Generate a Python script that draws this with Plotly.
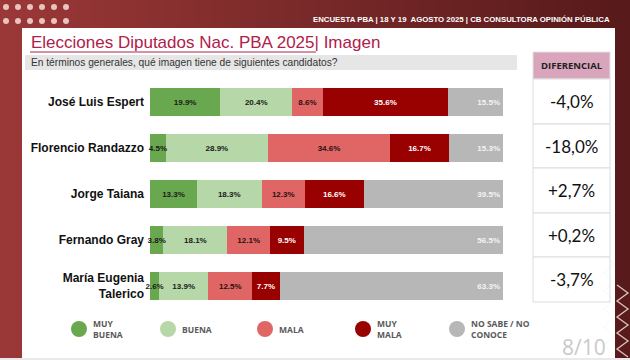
import plotly.graph_objects as go

# ---------------- data ----------------
candidates = ["José Luis Espert", "Florencio Randazzo", "Jorge Taiana",
              "Fernando Gray", "María Eugenia<br>Talerico"]
series_names = ["MUY<br>BUENA", "BUENA", "MALA", "MUY<br>MALA", "NO SABE / NO<br>CONOCE"]
muy_buena = [19.9, 4.5, 13.3, 3.8, 2.6]
buena = [20.4, 28.9, 18.3, 18.1, 13.9]
mala = [8.6, 34.6, 12.3, 12.1, 12.5]
muy_mala = [35.6, 16.7, 16.6, 9.5, 7.7]
ns_nc = [15.5, 15.3, 39.5, 56.5, 63.3]
diferencial = ["-4,0%", "-18,0%", "+2,7%", "+0,2%", "-3,7%"]

title_main = "Elecciones Diputados Nac. PBA 2025"
title_rest = "| Imagen"
subtitle = "En términos generales, qué imagen tiene de siguientes candidatos?"
header = "ENCUESTA PBA | 18 Y 19  AGOSTO 2025 | CB CONSULTORA OPINIÓN PÚBLICA"
table_header = "DIFERENCIAL"
page_label = "8/10"

# ---------------- styles ----------------
W, H = 630, 360
colors = ["#6aa84f", "#b6d7a8", "#e06666", "#990000", "#b7b7b7"]
text_colors = ["#1a1a1a", "#1a1a1a", "#2a1010", "#ffffff", "#f4f4f4"]
FONT = "Liberation Sans, Arial, sans-serif"


def px(x):
    return x / W


def py(y):
    return 1 - y / H


fig = go.Figure()
all_series = [muy_buena, buena, mala, muy_mala, ns_nc]
for i, vals in enumerate(all_series):
    fig.add_trace(go.Bar(
        y=candidates, x=vals, orientation="h",
        name=series_names[i].replace("<br>", " "),
        marker=dict(color=colors[i], line=dict(width=0)),
        text=None if i == 0 else [f"{v:.1f}%" for v in vals],
        textposition="inside",
        insidetextanchor="end" if i == 4 else "middle",
        textangle=0,
        textfont=dict(family=FONT, size=8, color=text_colors[i], weight="bold"),
        cliponaxis=False,
        hoverinfo="skip",
        showlegend=False,
    ))
# labels of the first series drawn on an overlaying axis so that they stay on top
fig.add_trace(go.Bar(
    y=candidates, x=muy_buena, orientation="h", xaxis="x2", yaxis="y2",
    marker=dict(color="rgba(0,0,0,0)", line=dict(width=0)),
    text=[f"{v:.1f}%" for v in muy_buena],
    textposition="inside", insidetextanchor="middle", textangle=0,
    textfont=dict(family=FONT, size=8, color=text_colors[0], weight="bold"),
    cliponaxis=False, hoverinfo="skip", showlegend=False,
))

shapes = []
# background gradient strips
n = 42
c0 = (0x9a, 0x38, 0x37)
c1 = (0x58, 0x1a, 0x1b)
for k in range(n):
    t = k / (n - 1)
    c = tuple(int(c0[j] + (c1[j] - c0[j]) * t) for j in range(3))
    shapes.append(dict(type="rect", xref="paper", yref="paper",
                       x0=k / n, x1=(k + 1) / n + 0.002, y0=0, y1=1,
                       fillcolor="rgb(%d,%d,%d)" % c, line=dict(width=0), layer="below"))
# bottom light strip
shapes.append(dict(type="rect", xref="paper", yref="paper", x0=0, x1=1, y0=0, y1=2 / H,
                   fillcolor="#e9e9e9", line=dict(width=0), layer="below"))
# white card
shapes.append(dict(type="rect", xref="paper", yref="paper", x0=px(22), x1=px(615),
                   y0=py(358), y1=py(28), fillcolor="#ffffff", line=dict(width=0), layer="below"))
# subtitle grey band
shapes.append(dict(type="rect", xref="paper", yref="paper", x0=px(25), x1=px(517),
                   y0=py(70), y1=py(55), fillcolor="#e6e6e6", line=dict(width=0), layer="below"))
# title underline
shapes.append(dict(type="line", xref="paper", yref="paper", x0=px(30), x1=px(316),
                   y0=py(52), y1=py(52), line=dict(color="#b0204a", width=1)))
# top-left dots
for row_y in [7, 21]:
    for dx in range(6):
        cx = 6 + dx * 12
        shapes.append(dict(type="circle", xref="paper", yref="paper",
                           x0=px(cx - 3), x1=px(cx + 3), y0=py(row_y + 3), y1=py(row_y - 3),
                           fillcolor="#e9c3c0", line=dict(width=0)))
# DIFERENCIAL header box
shapes.append(dict(type="rect", xref="paper", yref="paper", x0=px(533), x1=px(610),
                   y0=py(79), y1=py(52), fillcolor="#d8a5bd", line=dict(color="#e2e2e2", width=1)))
# table rows
row_edges = [79, 124, 168, 213, 257, 302]
for r in range(len(diferencial)):
    shapes.append(dict(type="rect", xref="paper", yref="paper", x0=px(533), x1=px(610),
                       y0=py(row_edges[r + 1]), y1=py(row_edges[r]),
                       fillcolor="#ffffff", line=dict(color="#dcdcdc", width=1)))
# zigzag decoration on right border
zz = "M %f,%f" % (px(617), py(285))
yy = 285
left = True
while yy < 356:
    yy += 8
    xx = 628 if left else 617
    left = not left
    zz += " L %f,%f" % (px(xx), py(yy))
shapes.append(dict(type="path", xref="paper", yref="paper", path=zz,
                   line=dict(color="rgba(255,255,255,0.75)", width=1.3)))
zz2 = "M %f,%f" % (px(604), py(255))
yy = 255
left = True
while yy < 350:
    yy += 9
    xx = 614 if left else 604
    left = not left
    zz2 += " L %f,%f" % (px(xx), py(yy))
shapes.append(dict(type="path", xref="paper", yref="paper", path=zz2,
                   line=dict(color="rgba(225,225,225,0.25)", width=1)))

# legend circles
legend_x = [79, 168, 265, 363, 457]
legend_y = 329
for i, lx in enumerate(legend_x):
    shapes.append(dict(type="circle", xref="paper", yref="paper",
                       x0=px(lx - 8), x1=px(lx + 8), y0=py(legend_y + 8), y1=py(legend_y - 8),
                       fillcolor=colors[i], line=dict(width=0)))

annotations = []
annotations.append(dict(text=header, x=px(612), y=py(19), xref="paper", yref="paper",
                        xanchor="right", yanchor="middle", showarrow=False,
                        font=dict(family=FONT, size=7.8, color="#ffffff", weight="bold")))
annotations.append(dict(text=title_main + title_rest, x=px(29), y=py(42), xref="paper", yref="paper",
                        xanchor="left", yanchor="middle", showarrow=False,
                        font=dict(family=FONT, size=17, color="#b0204a")))
annotations.append(dict(text=subtitle, x=px(29), y=py(62.5), xref="paper", yref="paper",
                        xanchor="left", yanchor="middle", showarrow=False,
                        font=dict(family=FONT, size=10.2, color="#333333")))
annotations.append(dict(text=table_header, x=px(571.5), y=py(65.5), xref="paper", yref="paper",
                        xanchor="center", yanchor="middle", showarrow=False,
                        font=dict(family="Open Sans, sans-serif", size=9.5, color="#222222", weight="bold")))
for r, val in enumerate(diferencial):
    annotations.append(dict(text=val, x=px(571.5), y=py((row_edges[r] + row_edges[r + 1]) / 2),
                            xref="paper", yref="paper", xanchor="center", yanchor="middle",
                            showarrow=False,
                            font=dict(family="Lato, sans-serif", size=17, color="#111111")))
for i, lx in enumerate(legend_x):
    annotations.append(dict(text=series_names[i], x=px(lx + 12), y=py(legend_y), xref="paper",
                            yref="paper", xanchor="left", yanchor="middle", align="left",
                            showarrow=False,
                            font=dict(family="Open Sans, sans-serif", size=8.5, color="#5a5a5a",
                                      weight="bold")))
annotations.append(dict(text=page_label, x=px(608), y=py(347), xref="paper", yref="paper",
                        xanchor="right", yanchor="middle", showarrow=False,
                        font=dict(family="Open Sans, sans-serif", size=21, color="#c9c9c9")))

xdom = [px(150), px(503)]
ydom = [py(309), py(79)]
fig.update_layout(
    width=W, height=H,
    margin=dict(l=0, r=0, t=0, b=0, autoexpand=False),
    paper_bgcolor="#8a3030",
    plot_bgcolor="rgba(0,0,0,0)",
    barmode="stack",
    bargap=0.37,
    uniformtext=dict(minsize=8, mode="show"),
    shapes=shapes,
    annotations=annotations,
    xaxis=dict(domain=xdom, range=[0, 100], visible=False, fixedrange=True, automargin=False),
    yaxis=dict(domain=ydom, categoryorder="array", categoryarray=candidates,
               autorange="reversed", showgrid=False, zeroline=False, showline=False,
               ticks="", ticklabelstandoff=5, automargin=False, fixedrange=True,
               tickfont=dict(family=FONT, size=12, color="#111111", weight="bold")),
    xaxis2=dict(domain=xdom, range=[0, 100], visible=False, anchor="y2", automargin=False),
    yaxis2=dict(domain=ydom, categoryorder="array", categoryarray=candidates,
                autorange="reversed", visible=False, anchor="x2", automargin=False),
    showlegend=False,
    hovermode=False,
)

fig.write_html("out.html", config={"displayModeBar": False, "staticPlot": True},
               post_script="document.body.style.margin='0';document.body.style.padding='0';")
